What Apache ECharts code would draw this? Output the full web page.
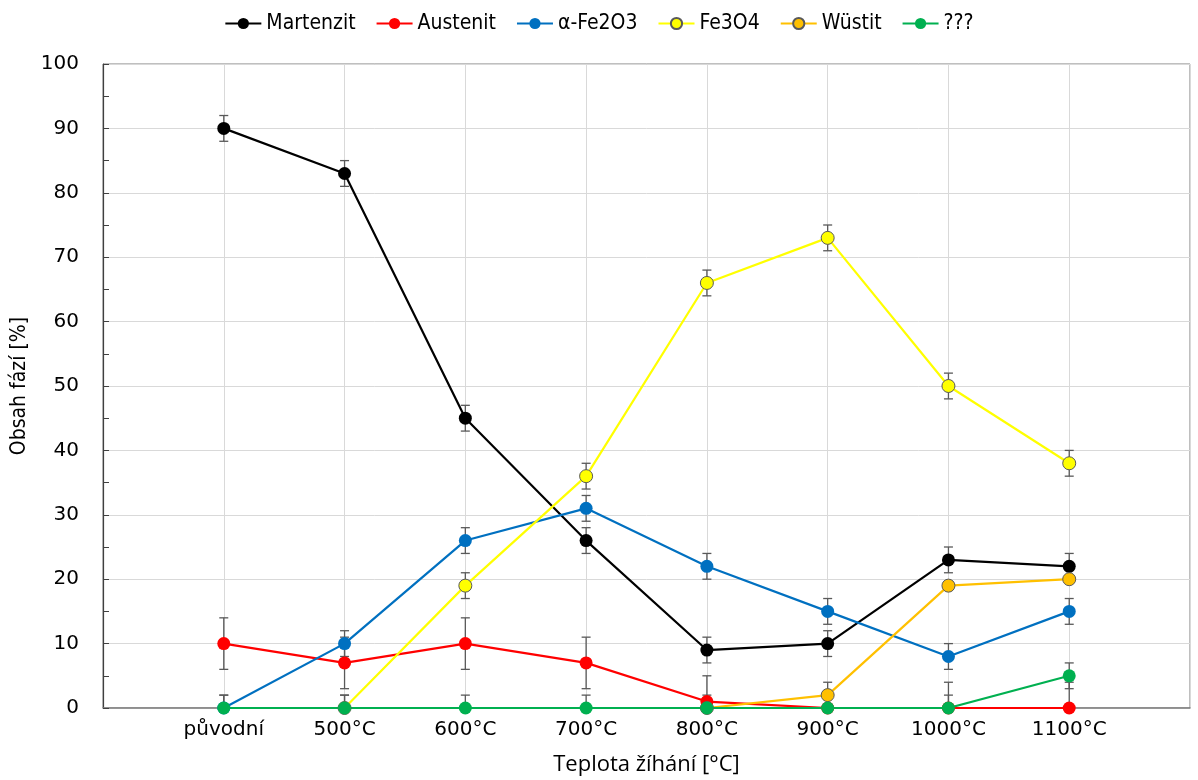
<!DOCTYPE html>
<html>
<head>
<meta charset="utf-8">
<script src="https://cdn.jsdelivr.net/npm/echarts@6/dist/echarts.min.js"></script>
<style>
  html, body { margin: 0; padding: 0; background: #fff; }
  #chart { width: 1198px; height: 780px; }
</style>
</head>
<body>
<div id="chart"></div>
<script>
// categories on the x axis (placed at 1..8)
const categories = ['původní', '500°C', '600°C', '700°C', '800°C', '900°C', '1000°C', '1100°C'];

const martenzit    = [90, 83, 45, 26, 9, 10, 23, 22];
const martenzitErr = [2, 2, 2, 2, 2, 2, 2, 2];
const austenit     = [10, 7, 10, 7, 1, 0, 0, 0];
const austenitErr  = [4, 4, 4, 4, 4, 4, 4, 4];
const fe2o3        = [0, 10, 26, 31, 22, 15, 8, 15];
const fe2o3Err     = [2, 2, 2, 2, 2, 2, 2, 2];
const fe3o4        = [null, 0, 19, 36, 66, 73, 50, 38];
const fe3o4Err     = [null, 2, 2, 2, 2, 2, 2, 2];
const wustit       = [null, null, null, null, 0, 2, 19, 20];
const unknown      = [0, 0, 0, 0, 0, 0, 0, 5];
const unknownErr   = [2, 2, 2, 2, 2, 2, 2, 2];

const yTicks = [0, 10, 20, 30, 40, 50, 60, 70, 80, 90, 100];

function points(vals) {
  const out = [];
  vals.forEach((v, i) => { if (v !== null) out.push([i + 1, v]); });
  return out;
}
function errPoints(vals, errs) {
  const out = [];
  vals.forEach((v, i) => {
    if (v !== null && errs[i]) out.push([i + 1, v - errs[i], v + errs[i]]);
  });
  return out;
}

function lineSeries(name, vals, color, border) {
  return {
    name: name,
    type: 'line',
    data: points(vals),
    symbol: 'circle',
    symbolSize: 13,
    z: 3,
    lineStyle: { color: color, width: 2.2 },
    itemStyle: border
      ? { color: color, borderColor: '#595959', borderWidth: 1 }
      : { color: color, borderWidth: 0 },
    emphasis: { disabled: true }
  };
}

function errorSeries(vals, errs) {
  return {
    type: 'custom',
    name: 'err',
    z: 2,
    clip: true,
    silent: true,
    data: errPoints(vals, errs),
    renderItem: function (params, api) {
      const x = api.value(0);
      const top = api.coord([x, api.value(2)]);
      const bot = api.coord([x, api.value(1)]);
      const cap = 4.5;
      const style = { stroke: '#595959', lineWidth: 1.3 };
      return {
        type: 'group',
        children: [
          { type: 'line', shape: { x1: top[0], y1: top[1], x2: bot[0], y2: bot[1] }, style: style },
          { type: 'line', shape: { x1: top[0] - cap, y1: top[1], x2: top[0] + cap, y2: top[1] }, style: style },
          { type: 'line', shape: { x1: bot[0] - cap, y1: bot[1], x2: bot[0] + cap, y2: bot[1] }, style: style }
        ]
      };
    }
  };
}

const chart = echarts.init(document.getElementById('chart'));
chart.setOption({
  animation: false,
  backgroundColor: '#fff',
  textStyle: { fontFamily: 'DejaVu Sans' },
  legend: {
    top: 8,
    left: 'center',
    itemWidth: 36,
    itemHeight: 14,
    itemGap: 20,
    textStyle: { fontFamily: "'DejaVu Sans Condensed', sans-serif", fontSize: 21, color: '#000' },
    data: ['Martenzit', 'Austenit', 'α-Fe2O3', 'Fe3O4', 'Wüstit', '???']
  },
  grid: {
    left: 103,
    right: 8,
    top: 64,
    bottom: 72,
    outerBoundsMode: 'none',
    show: true,
    borderColor: '#7f7f7f',
    borderWidth: 1
  },
  xAxis: {
    type: 'value',
    min: 0,
    max: 9,
    interval: 1,
    name: 'Teplota žíhání [°C]',
    nameLocation: 'middle',
    nameGap: 46,
    nameTextStyle: { fontFamily: "'Open Sans', sans-serif", fontSize: 22, color: '#000' },
    axisLine: { lineStyle: { color: '#7f7f7f', width: 1.5 } },
    axisTick: { show: false },
    axisLabel: {
      fontSize: 20,
      color: '#000',
      margin: 12,
      formatter: function (v) { return categories[v - 1] || ''; }
    },
    splitLine: { show: true, lineStyle: { color: '#d9d9d9', width: 1 } }
  },
  yAxis: {
    type: 'value',
    min: yTicks[0],
    max: yTicks[yTicks.length - 1],
    interval: 10,
    name: 'Obsah fází [%]',
    nameLocation: 'middle',
    nameGap: 72,
    nameTextStyle: { fontFamily: "'DejaVu Sans Condensed', sans-serif", fontSize: 21, color: '#000' },
    axisLine: { show: true, lineStyle: { color: '#404040', width: 1.2 } },
    axisTick: { show: true, inside: true, length: 6, lineStyle: { color: '#404040' } },
    minorTick: { show: true, splitNumber: 2, length: 6, lineStyle: { color: '#404040' } },
    axisLabel: { fontSize: 20, color: '#000', margin: 24 },
    splitLine: { show: true, lineStyle: { color: '#d9d9d9', width: 1 } }
  },
  series: [
    errorSeries(martenzit, martenzitErr),
    errorSeries(austenit, austenitErr),
    errorSeries(fe2o3, fe2o3Err),
    errorSeries(fe3o4, fe3o4Err),
    errorSeries(unknown, unknownErr),
    lineSeries('Martenzit', martenzit, '#000000', false),
    lineSeries('Austenit', austenit, '#ff0000', false),
    lineSeries('α-Fe2O3', fe2o3, '#0070c0', false),
    lineSeries('Fe3O4', fe3o4, '#ffff00', true),
    lineSeries('Wüstit', wustit, '#ffc000', true),
    lineSeries('???', unknown, '#00b050', false)
  ]
});
</script>
</body>
</html>
